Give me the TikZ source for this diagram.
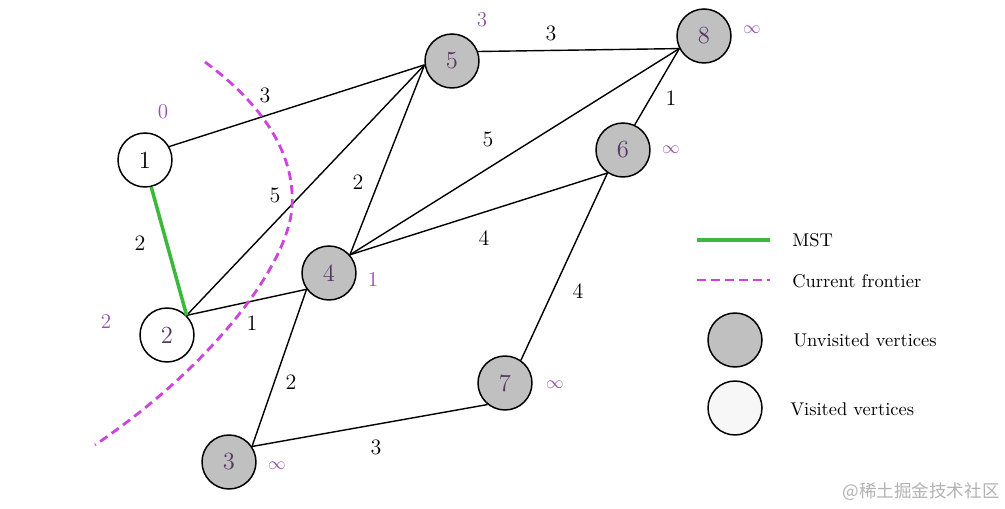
\documentclass[tikz,border=0pt]{standalone}
\usepackage{fontspec}
\newfontfamily\cjkfont{Noto Sans CJK SC}
\usepackage{amsmath,amssymb}
\definecolor{visgray}{RGB}{192,192,192}
\definecolor{mstgreen}{RGB}{60,185,60}
\definecolor{frontpink}{RGB}{204,68,221}
\definecolor{distpurple}{RGB}{150,80,175}
\definecolor{numpurple}{RGB}{85,55,100}
\usetikzlibrary{arrows.meta,calc,positioning}

\begin{document}
\begin{tikzpicture}[
  x=0.02cm,
  y=-0.02cm,
  vertex/.style={circle,draw,line width=0.85pt,minimum size=1.08cm,inner sep=0pt,
    font=\fontsize{14}{16}\selectfont,text=numpurple},
  unvisited/.style={vertex,fill=visgray},
  visited/.style={vertex,fill=white},
  edge/.style={line width=0.8pt},
  mst/.style={line width=2pt,mstgreen},
  frontier/.style={line width=1.6pt,frontpink,dash pattern=on 5pt off 3pt},
  weight/.style={font=\fontsize{12.5}{14}\selectfont,inner sep=1pt},
  dist/.style={font=\fontsize{12}{14}\selectfont,text=distpurple,inner sep=1pt},
  inf/.style={dist,font=\fontsize{10}{12}\selectfont},
  legendtext/.style={font=\fontsize{10.5}{12}\selectfont,anchor=west,inner sep=0pt}
]
\useasboundingbox (0,0) rectangle (1005,509);

% Vertices
\node[visited,text=black] (Vone)   at (145,160) {1};
\node[visited]   (Vtwo)   at (167,335) {2};
\node[unvisited] (Vthree) at (229,462) {3};
\node[unvisited] (Vfour)  at (329,273) {4};
\node[unvisited] (Vfive)  at (452,61)  {5};
\node[unvisited] (Vsix)   at (623,150) {6};
\node[unvisited] (Vseven) at (505,383) {7};
\node[unvisited] (Veight) at (704,36)  {8};

% Edges
\draw[edge] (Vone.29)--(Vfive.188);
\draw[edge] (Vtwo.45)--(Vfive.188);
\draw[edge] (Vtwo.45)--(Vfour.216);
\draw[edge] (Vfour.41)--(Vfive.188);
\draw[edge] (Vfour.41)--(Veight.207);
\draw[edge] (Vfour.41)--(Vsix.236);
\draw[edge] (Vfour.216)--(Vthree.34);
\draw[edge] (Vthree.34)--(Vseven.231);
\draw[edge] (Vseven.55)--(Vsix.236);
\draw[edge] (Vsix.65)--(Veight.207);
\draw[edge] (Vfive.20)--(Veight.207);

% Tree edge
\draw[mst] (Vone.-77)--(Vtwo.45);

% Frontier
\draw[frontier] (205,62) .. controls (270,110) and (295,160) .. (292,207)
  .. controls (289,260) and (220,360) .. (95,445);

% Weights
\node[weight] at (265,95)  {3};
\node[weight] at (140,243) {2};
\node[weight] at (275,195) {5};
\node[weight] at (252,323) {1};
\node[weight] at (358,182) {2};
\node[weight] at (488,139) {5};
\node[weight] at (484,238) {4};
\node[weight] at (291,382) {2};
\node[weight] at (376,447) {3};
\node[weight] at (578,291) {4};
\node[weight] at (671,98)  {1};
\node[weight] at (551,33)  {3};

% Distances
\node[dist] at (163,112) {0};
\node[dist] at (106,321) {2};
\node[dist] at (482,20)  {3};
\node[inf] at (752,30)  {$\infty$};
\node[inf] at (671,150) {$\infty$};
\node[dist] at (373,279) {1};
\node[inf] at (555,385) {$\infty$};
\node[inf] at (277,466) {$\infty$};

% Legend
\coordinate (MSTa) at (697,240);
\coordinate (MSTb) at (770,240);
\coordinate (Fra) at (697,280);
\coordinate (Frb) at (770,280);
\draw[mst,line width=1.8pt] (MSTa)--(MSTb);
\draw[frontier] (Fra)--(Frb);
\node[unvisited] (Lunv) at (735,340) {};
\node[visited,fill=black!3] (Lvis) at (735,408) {};
\node[legendtext] at (792,240) {MST};
\node[legendtext] at (792,281) {Current frontier};
\node[legendtext] at (793,340) {Unvisited vertices};
\node[legendtext] at (790,409) {Visited vertices};

% Watermark
\node[anchor=east,text=black!30,font=\cjkfont\fontsize{10}{12}\selectfont,inner sep=0pt]
  at (1000,492) {@稀土掘金技术社区};
\end{tikzpicture}
\end{document}
